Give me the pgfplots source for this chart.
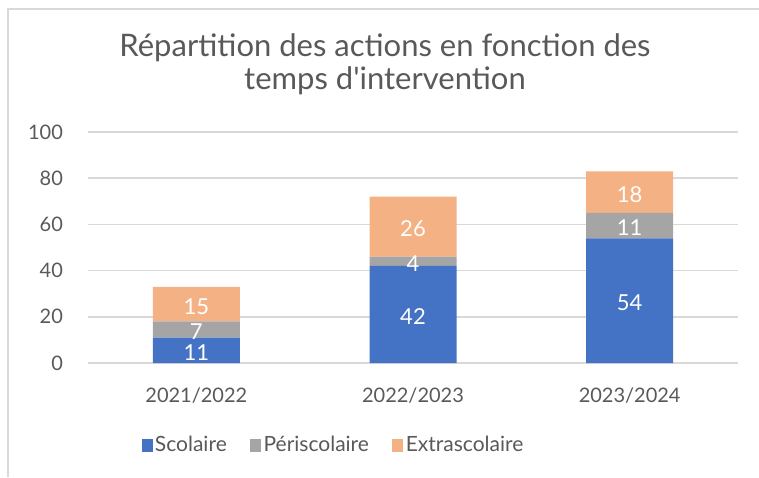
\documentclass[border=0pt]{standalone}
\usepackage{fontspec}
\setmainfont{Lato}
\usepackage{pgfplots}
\pgfplotsset{compat=1.18}
\definecolor{cBlue}{HTML}{4472C4}
\definecolor{cGray}{HTML}{A5A5A5}
\definecolor{cOrange}{HTML}{F4B183}
\definecolor{cGrid}{HTML}{D9D9D9}
\definecolor{cText}{HTML}{595959}
\definecolor{cBorder}{HTML}{D9D9D9}
\begin{document}
\begin{tikzpicture}
\path[use as bounding box] (0pt,0pt) rectangle (379.5pt,238.5pt);
\draw[color=cBorder, line width=1pt] (3.75pt,0pt) -- (3.75pt,233.75pt) -- (379.5pt,233.75pt);
\node[anchor=base, font=\fontsize{15.5}{18}\selectfont, text=cText] at (192.5pt,210pt) {Répartition des actions en fonction des};
\node[anchor=base, font=\fontsize{15.5}{18}\selectfont, text=cText] at (192.5pt,193.5pt) {temps d\textquotesingle intervention};
\begin{axis}[
  at={(44pt,57pt)}, anchor=south west,
  scale only axis, width=325pt, height=115.5pt,
  xmin=-0.5, xmax=2.5, ymin=0, ymax=100,
  ytick={0,20,...,100},
  xtick={0,1,2}, xticklabels={2021/2022,2022/2023,2023/2024},
  ybar stacked, bar width=43.5pt,
  axis line style={draw=none}, major tick length=0pt,
  ymajorgrids, grid style={cGrid, line width=0.75pt},
  tick label style={font=\fontsize{10}{12}\selectfont, text=cText},
  yticklabel style={xshift=-9pt},
  xticklabel style={yshift=-9pt},
  /pgf/number format/assume math mode=true,
  legend style={at={(0.378,-0.358)}, anchor=center, draw=none, fill=none,
    legend columns=-1, font=\fontsize{10.5}{12}\selectfont, text=cText,
    nodes={inner sep=1.2pt},
    /tikz/every even column/.append style={column sep=10.5pt}},
  legend cell align=left,
  legend image code/.code={\fill[#1] (0pt,-3.2pt) rectangle (5.5pt,3.2pt);},
]
\addplot[fill=cBlue, draw=none] coordinates {(0,11) (1,42) (2,54)};
\addplot[fill=cGray, draw=none] coordinates {(0,7) (1,4) (2,11)};
\addplot[fill=cOrange, draw=none] coordinates {(0,15) (1,26) (2,18)};
\legend{Scolaire, Périscolaire, Extrascolaire}
\end{axis}
\begin{axis}[
  at={(44pt,57pt)}, anchor=south west,
  scale only axis, width=325pt, height=115.5pt,
  xmin=-0.5, xmax=2.5, ymin=0, ymax=100,
  hide axis,
]
\addplot[draw=none, mark=none, nodes near coords, point meta=explicit symbolic,
  every node near coord/.append style={anchor=center, yshift=-1.2pt, text=white, font=\fontsize{11}{12}\selectfont}]
  coordinates {(0,5.5)[11] (0,14.5)[7] (0,25.5)[15]
               (1,21)[42] (1,44)[4] (1,59)[26]
               (2,27)[54] (2,59.5)[11] (2,74)[18]};
\end{axis}
\end{tikzpicture}
\end{document}
